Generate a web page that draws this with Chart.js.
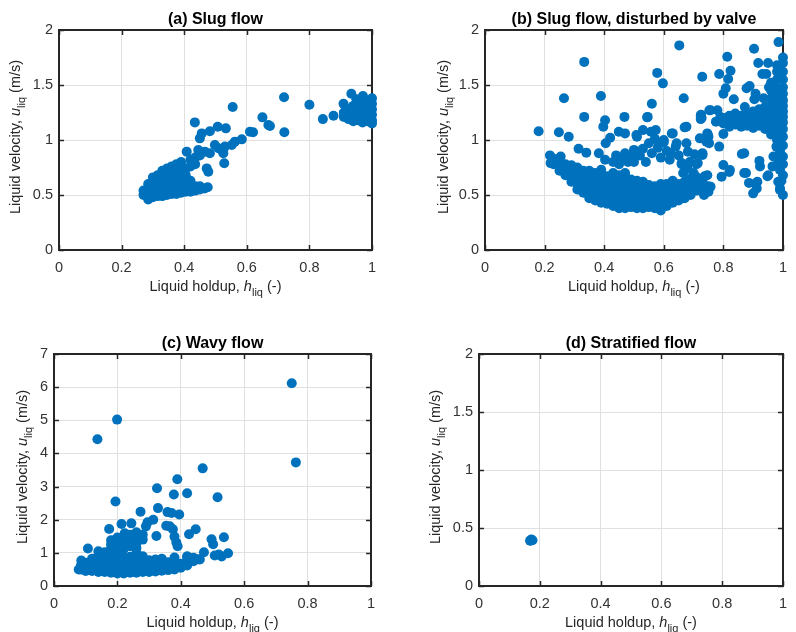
<!DOCTYPE html>
<html>
<head>
<meta charset="utf-8">
<script src="https://cdn.jsdelivr.net/npm/chart.js@4.4.0/dist/chart.umd.min.js"></script>
<style>
  body { margin: 0; background: #fff; }
  canvas { position: absolute; left: 0; top: 0; }
</style>
</head>
<body>
<canvas id="pa" width="796" height="632"></canvas>
<canvas id="pb" width="796" height="632"></canvas>
<canvas id="pc" width="796" height="632"></canvas>
<canvas id="pd" width="796" height="632"></canvas>
<script>
// tick labels
const holdupTicks = [0, 0.2, 0.4, 0.6, 0.8, 1];
const velTicks = [0, 0.5, 1, 1.5, 2];
const wavyVelTicks = [0, 1, 2, 3, 4, 5, 6, 7];

const panelTitles = ['(a) Slug flow', '(b) Slug flow, disturbed by valve', '(c) Wavy flow', '(d) Stratified flow'];

// (a) slug flow: [holdup, velocity]
const slugPts = [
  [0.434,1.16],[0.555,1.30],[0.507,1.12],[0.533,1.106],[0.482,1.08],[0.456,1.06],[0.45,1.015],
  [0.65,1.206],[0.669,1.136],[0.61,1.075],[0.62,1.07],[0.584,1.006],[0.562,0.985],[0.552,0.955],
  [0.53,0.94],[0.509,0.925],[0.498,0.955],[0.408,0.894],[0.445,0.909],[0.466,0.894],[0.482,0.879],
  [0.52,0.909],[0.525,0.879],[0.528,0.788],[0.472,0.742],[0.477,0.712],
  [0.719,1.388],[0.80,1.32],[0.843,1.19],[0.877,1.22],[0.72,1.07],[0.674,1.127],
  [0.27,0.50],[0.27,0.54],
  [0.285,0.46],[0.285,0.50],[0.285,0.55],[0.285,0.60],
  [0.30,0.48],[0.30,0.52],[0.30,0.57],[0.30,0.62],[0.30,0.66],
  [0.315,0.49],[0.315,0.53],[0.315,0.58],[0.315,0.63],[0.315,0.68],
  [0.33,0.49],[0.33,0.54],[0.33,0.59],[0.33,0.64],[0.33,0.69],[0.33,0.72],
  [0.345,0.50],[0.345,0.55],[0.345,0.60],[0.345,0.65],[0.345,0.70],[0.345,0.74],
  [0.36,0.51],[0.36,0.56],[0.36,0.61],[0.36,0.66],[0.36,0.71],[0.36,0.76],
  [0.375,0.51],[0.375,0.56],[0.375,0.61],[0.375,0.66],[0.375,0.71],[0.375,0.78],
  [0.39,0.52],[0.39,0.57],[0.39,0.62],[0.39,0.67],[0.39,0.72],[0.39,0.80],
  [0.405,0.53],[0.405,0.57],[0.405,0.62],[0.405,0.68],[0.405,0.74],
  [0.42,0.53],[0.42,0.58],[0.42,0.63],[0.42,0.76],[0.42,0.82],
  [0.435,0.54],[0.435,0.58],[0.435,0.78],[0.435,0.84],
  [0.45,0.55],[0.45,0.58],[0.45,0.86],[0.465,0.56],[0.475,0.57],
  [0.934,1.42],[0.971,1.40],[0.909,1.33],[0.95,1.37],
  [0.91,1.25],[0.91,1.21],[0.925,1.28],[0.925,1.23],[0.925,1.19],
  [0.94,1.31],[0.94,1.26],[0.94,1.21],[0.94,1.17],
  [0.955,1.33],[0.955,1.28],[0.955,1.23],[0.955,1.18],
  [0.97,1.34],[0.97,1.29],[0.97,1.24],[0.97,1.19],[0.97,1.16],
  [0.985,1.36],[0.985,1.31],[0.985,1.26],[0.985,1.21],[0.985,1.17],
  [1.0,1.38],[1.0,1.33],[1.0,1.28],[1.0,1.23],[1.0,1.18],[1.0,1.15]
];

// (b) slug flow disturbed by valve
const valvePts = [
  [0.18,1.08],[0.218,0.86],[0.22,0.79],[0.248,1.07],[0.265,1.38],[0.281,1.03],[0.254,0.85],
  [0.314,0.92],[0.34,0.885],[0.333,1.71],[0.333,1.21],[0.389,1.40],[0.403,1.18],[0.397,1.12],
  [0.382,0.88],[0.403,0.82],[0.42,1.02],[0.405,0.97],[0.468,1.21],[0.546,1.21],[0.56,1.33],
  [0.578,1.61],[0.597,1.515],[0.652,1.86],[0.667,1.38],[0.676,1.12],[0.729,1.575],[0.725,1.23],
  [0.727,1.20],[0.757,1.27],[0.786,1.60],[0.813,1.757],[0.824,1.63],[0.816,1.555],[0.80,1.42],
  [0.808,1.47],[0.903,1.83],[0.917,1.70],[0.95,1.70],[0.944,1.60],[0.931,1.60],[0.985,1.89],
  [0.835,1.37],[0.872,1.30],[0.878,1.47],[0.888,1.49],[0.908,1.42],[0.904,1.37],[0.953,1.48],
  [0.935,1.38],[0.753,1.27],[0.78,1.27],[0.724,1.22],[0.724,1.19],[0.775,1.167],[0.79,1.21],
  [0.80,1.055],[0.67,1.115],[0.748,1.045],[0.743,0.985],[0.721,1.015],[0.786,0.94],[0.862,0.873],
  [0.80,0.773],[0.794,0.667],[0.822,0.727],[0.87,0.70],[0.886,0.61],[0.90,0.515],[0.912,0.56],
  [0.921,0.81],[0.923,0.76],[0.948,0.67],[0.727,0.87],[0.737,0.67],[0.716,0.62],
  [0.449,1.075],[0.47,1.06],[0.508,1.045],[0.53,1.09],[0.557,1.075],[0.544,1.206],
  [0.23,0.78],[0.23,0.83],[0.25,0.72],[0.25,0.77],[0.25,0.81],[0.27,0.68],[0.27,0.73],[0.27,0.78],
  [0.29,0.62],[0.29,0.67],[0.29,0.72],[0.29,0.77],
  [0.31,0.55],[0.31,0.60],[0.31,0.65],[0.31,0.70],[0.31,0.75],
  [0.33,0.52],[0.33,0.57],[0.33,0.62],[0.33,0.67],[0.33,0.72],
  [0.35,0.47],[0.35,0.52],[0.35,0.57],[0.35,0.62],[0.35,0.67],[0.35,0.72],
  [0.37,0.45],[0.37,0.50],[0.37,0.55],[0.37,0.60],[0.37,0.65],[0.37,0.70],
  [0.39,0.43],[0.39,0.48],[0.39,0.53],[0.39,0.58],[0.39,0.63],[0.39,0.68],[0.39,0.73],
  [0.41,0.42],[0.41,0.47],[0.41,0.52],[0.41,0.57],[0.41,0.62],[0.41,0.67],
  [0.43,0.40],[0.43,0.45],[0.43,0.50],[0.43,0.55],[0.43,0.60],[0.43,0.65],[0.43,0.70],
  [0.45,0.38],[0.45,0.43],[0.45,0.48],[0.45,0.53],[0.45,0.58],[0.45,0.63],[0.45,0.68],
  [0.47,0.38],[0.47,0.43],[0.47,0.48],[0.47,0.53],[0.47,0.58],[0.47,0.63],[0.47,0.70],
  [0.49,0.39],[0.49,0.44],[0.49,0.49],[0.49,0.54],[0.49,0.59],[0.49,0.64],
  [0.51,0.38],[0.51,0.43],[0.51,0.48],[0.51,0.53],[0.51,0.58],[0.51,0.63],
  [0.53,0.38],[0.53,0.43],[0.53,0.48],[0.53,0.53],[0.53,0.58],[0.53,0.62],
  [0.55,0.39],[0.55,0.44],[0.55,0.49],[0.55,0.54],[0.55,0.59],
  [0.57,0.38],[0.57,0.43],[0.57,0.48],[0.57,0.53],[0.57,0.58],
  [0.59,0.36],[0.59,0.41],[0.59,0.46],[0.59,0.51],[0.59,0.56],[0.59,0.60],
  [0.61,0.40],[0.61,0.45],[0.61,0.50],[0.61,0.55],[0.61,0.60],
  [0.63,0.43],[0.63,0.48],[0.63,0.53],[0.63,0.58],[0.63,0.63],
  [0.65,0.45],[0.65,0.50],[0.65,0.55],[0.65,0.60],
  [0.67,0.47],[0.67,0.52],[0.67,0.57],[0.67,0.62],
  [0.69,0.50],[0.69,0.55],[0.69,0.60],[0.69,0.65],
  [0.71,0.54],[0.71,0.59],[0.71,0.64],[0.73,0.56],[0.73,0.62],[0.75,0.58],[0.75,0.53],
  [0.43,0.80],[0.44,0.86],[0.45,0.78],[0.46,0.83],[0.47,0.88],[0.48,0.80],[0.49,0.86],[0.50,0.91],
  [0.50,0.80],[0.52,0.86],[0.51,1.03],[0.53,0.92],[0.54,0.80],[0.55,0.97],[0.56,0.88],[0.57,1.01],
  [0.58,0.93],[0.59,0.84],[0.60,0.98],[0.61,0.90],[0.62,0.82],[0.63,1.06],[0.64,0.94],[0.65,0.86],
  [0.66,0.78],[0.68,0.74],[0.70,0.70],[0.71,0.78],
  [0.573,1.09],[0.584,0.97],[0.60,1.0],[0.627,1.06],[0.643,0.97],[0.622,0.88],[0.676,0.97],
  [0.681,0.894],[0.687,0.80],[0.66,0.79],[0.665,0.70],[0.708,0.667],[0.73,0.864],[0.746,1.06],[0.752,0.97],
  [0.724,0.61],[0.746,0.68],[0.735,0.50],[0.757,0.576],[0.714,0.79],[0.703,0.87],[0.73,0.88],[0.75,1.03],
  [0.80,1.15],[0.80,1.20],[0.82,1.12],[0.82,1.17],[0.82,1.22],[0.84,1.14],[0.84,1.19],[0.84,1.24],
  [0.86,1.12],[0.86,1.17],[0.86,1.22],[0.88,1.13],[0.88,1.18],[0.88,1.23],
  [0.90,1.11],[0.90,1.16],[0.90,1.21],[0.90,1.26],[0.92,1.13],[0.92,1.18],[0.92,1.23],[0.92,1.28],
  [0.94,1.10],[0.94,1.15],[0.94,1.20],[0.94,1.25],[0.94,1.30],
  [0.96,1.05],[0.96,1.12],[0.96,1.17],[0.96,1.22],[0.96,1.27],[0.96,1.32],[0.96,1.38],[0.96,1.45],[0.96,1.52],
  [0.98,1.0],[0.98,1.08],[0.98,1.14],[0.98,1.19],[0.98,1.24],[0.98,1.29],[0.98,1.34],[0.98,1.40],
  [0.98,1.47],[0.98,1.55],[0.98,1.62],[0.98,1.68],
  [1.0,0.95],[1.0,1.03],[1.0,1.1],[1.0,1.16],[1.0,1.21],[1.0,1.26],[1.0,1.31],[1.0,1.36],[1.0,1.42],
  [1.0,1.48],[1.0,1.55],[1.0,1.62],[1.0,1.70],[1.0,1.75],
  [0.99,0.9],[1.0,0.85],[0.985,0.8],[0.99,0.727],[1.0,0.68],[0.995,0.63],[0.984,0.62],[0.99,0.56],
  [1.0,0.5],[0.99,0.545],[0.978,0.94],[0.968,0.85],[0.965,0.76],[0.951,0.68],[1.0,0.78],[0.978,1.06],
  [0.914,0.62],[0.876,0.70],[0.87,0.88],[0.82,0.71]
];

// (c) wavy flow
const wavyPts = [
  [0.137,4.43],[0.199,5.02],[0.75,6.12],[0.763,3.73],[0.469,3.55],[0.389,3.22],[0.42,2.80],
  [0.378,2.76],[0.325,2.95],[0.516,2.68],[0.194,2.55],[0.273,2.24],[0.328,2.35],[0.358,2.23],
  [0.371,2.2],[0.395,2.16],[0.295,1.92],[0.313,2.0],[0.354,1.82],[0.375,1.71],[0.447,1.71],
  [0.426,1.56],[0.323,1.51],[0.38,1.49],[0.386,1.31],[0.497,1.41],[0.502,1.26],[0.536,1.47],
  [0.174,1.72],[0.213,1.87],[0.244,1.89],[0.107,1.13],[0.473,1.02],[0.507,0.92],[0.529,0.89],
  [0.549,0.99],[0.52,0.95],[0.42,0.87],[0.438,0.83],[0.455,0.81],[0.086,0.77],[0.078,0.50],
  [0.39,1.2],[0.365,1.8],[0.29,1.80],[0.223,1.59],[0.25,1.49],[0.27,1.54],
  [0.085,0.50],[0.085,0.62],[0.10,0.45],[0.10,0.57],[0.10,0.70],
  [0.12,0.45],[0.12,0.57],[0.12,0.70],[0.12,0.82],
  [0.14,0.42],[0.14,0.54],[0.14,0.66],[0.14,0.78],[0.14,0.92],[0.14,1.05],
  [0.16,0.42],[0.16,0.54],[0.16,0.66],[0.16,0.78],[0.16,0.90],[0.16,1.02],
  [0.18,0.40],[0.18,0.52],[0.18,0.64],[0.18,0.76],[0.18,0.88],[0.18,1.00],[0.18,1.12],[0.18,1.25],[0.18,1.38],
  [0.20,0.38],[0.20,0.50],[0.20,0.62],[0.20,0.74],[0.20,0.86],[0.20,0.98],[0.20,1.10],[0.20,1.22],[0.20,1.34],[0.20,1.46],
  [0.22,0.38],[0.22,0.50],[0.22,0.62],[0.22,0.74],[0.22,0.86],[0.22,1.12],[0.22,1.30],[0.22,1.42],
  [0.24,0.40],[0.24,0.52],[0.24,0.64],[0.24,0.76],[0.24,0.88],[0.24,1.20],[0.24,1.35],[0.24,1.55],
  [0.26,0.40],[0.26,0.52],[0.26,0.64],[0.26,0.76],[0.26,1.00],[0.26,1.15],[0.26,1.30],[0.26,1.62],
  [0.28,0.42],[0.28,0.54],[0.28,0.66],[0.28,0.90],[0.28,1.40],[0.28,1.55],
  [0.30,0.42],[0.30,0.54],[0.30,0.66],[0.30,0.78],
  [0.32,0.44],[0.32,0.56],[0.32,0.68],[0.32,0.80],
  [0.34,0.46],[0.34,0.58],[0.34,0.70],[0.34,0.82],
  [0.36,0.48],[0.36,0.60],[0.36,0.72],
  [0.38,0.50],[0.38,0.62],[0.38,0.74],[0.38,0.86],
  [0.40,0.55],[0.40,0.67],[0.42,0.62],[0.42,0.90],[0.44,0.75],[0.44,0.85],[0.46,0.80]
];

// (d) stratified flow
const stratPts = [[0.168,0.39],[0.172,0.40],[0.176,0.395],[0.17,0.392]];

// plot boxes in page pixels
const boxes = [
  { L: 59, R: 372, T: 30, B: 250, yLab: 39 },
  { L: 485, R: 793, T: 30, B: 250, yLab: 37 },
  { L: 54, R: 371, T: 354, B: 586, yLab: 27 },
  { L: 479, R: 793, T: 354, B: 586, yLab: 39 }
];

const FONT = "'Liberation Sans', Arial, Helvetica, sans-serif";
const AX = '#262626';

function drawRich(ctx, parts, cx, y) {
  let w = 0;
  parts.forEach(p => { ctx.font = p.font; w += ctx.measureText(p.text).width; });
  let x = cx - w / 2;
  parts.forEach(p => {
    ctx.font = p.font;
    ctx.fillText(p.text, x, y + (p.dy || 0));
    x += ctx.measureText(p.text).width;
  });
}

const matlabAxes = {
  id: 'matlabAxes',
  beforeDatasetsDraw(chart) {
    const { ctx, chartArea: a, scales: { x, y } } = chart;
    ctx.save();
    ctx.strokeStyle = AX;
    ctx.lineWidth = 1.5;
    ctx.beginPath();
    x.ticks.forEach(t => {
      const px = Math.round(x.getPixelForValue(t.value)) + 0.5;
      ctx.moveTo(px, a.bottom); ctx.lineTo(px, a.bottom - 5);
      ctx.moveTo(px, a.top); ctx.lineTo(px, a.top + 5);
    });
    y.ticks.forEach(t => {
      const py = Math.round(y.getPixelForValue(t.value)) + 0.5;
      ctx.moveTo(a.left, py); ctx.lineTo(a.left + 5, py);
      ctx.moveTo(a.right, py); ctx.lineTo(a.right - 5, py);
    });
    ctx.stroke();
    ctx.lineWidth = 2;
    ctx.strokeRect(Math.round(a.left), Math.round(a.top), Math.round(a.right - a.left), Math.round(a.bottom - a.top));
    ctx.restore();
  },
  afterDraw(chart) {
    const { ctx, chartArea: a } = chart;
    const o = chart.options.plugins.matlabAxes;
    const cx = (a.left + a.right) / 2;
    const cy = (a.top + a.bottom) / 2;
    ctx.save();
    ctx.textAlign = 'left';
    ctx.textBaseline = 'alphabetic';
    ctx.fillStyle = '#000';
    drawRich(ctx, [{ text: o.title, font: 'bold 16px ' + FONT }], cx, a.top - 6);
    ctx.fillStyle = AX;
    drawRich(ctx, [
      { text: 'Liquid holdup, ', font: '14.5px ' + FONT },
      { text: 'h', font: 'italic 14.5px ' + FONT },
      { text: 'liq', font: '11px ' + FONT, dy: 4.5 },
      { text: ' (-)', font: '14.5px ' + FONT }
    ], cx, a.bottom + 41);
    ctx.translate(a.left - o.yLab, cy - 3);
    ctx.rotate(-Math.PI / 2);
    drawRich(ctx, [
      { text: 'Liquid velocity, ', font: '14.5px ' + FONT },
      { text: 'u', font: 'italic 14.5px ' + FONT },
      { text: 'liq', font: '11px ' + FONT, dy: 4.5 },
      { text: ' (m/s)', font: '14.5px ' + FONT }
    ], 0, 0);
    ctx.restore();
  }
};

function makePanel(id, pts, box, title, yTicks) {
  const yMax = yTicks[yTicks.length - 1];
  new Chart(document.getElementById(id).getContext('2d'), {
    type: 'scatter',
    data: {
      datasets: [{
        data: pts.map(p => ({ x: p[0], y: p[1] })),
        backgroundColor: '#0072BD',
        borderWidth: 0,
        pointRadius: 5,
        pointHoverRadius: 5,
        clip: false
      }]
    },
    options: {
      responsive: false,
      animation: false,
      events: [],
      layout: { padding: { left: box.L - 40, right: 796 - box.R, top: box.T, bottom: 632 - box.B - 30 } },
      scales: {
        x: {
          type: 'linear', min: 0, max: 1,
          afterFit: s => { s.height = 30; },
          afterBuildTicks: s => { s.ticks = holdupTicks.map(v => ({ value: v })); },
          grid: { color: '#e0e0e0', drawTicks: false },
          border: { display: false },
          ticks: { autoSkip: false, maxRotation: 0, padding: 9, color: '#333', font: { family: FONT, size: 14.5 }, callback: v => String(v) }
        },
        y: {
          type: 'linear', min: 0, max: yMax,
          afterFit: s => { s.width = 40; },
          afterBuildTicks: s => { s.ticks = yTicks.map(v => ({ value: v })); },
          grid: { color: '#e0e0e0', drawTicks: false },
          border: { display: false },
          ticks: { autoSkip: false, padding: 6, color: '#333', font: { family: FONT, size: 14.5 }, callback: v => String(v) }
        }
      },
      plugins: {
        legend: { display: false },
        tooltip: { enabled: false },
        matlabAxes: { title: title, yLab: box.yLab }
      }
    },
    plugins: [matlabAxes]
  });
}

makePanel('pa', slugPts, boxes[0], panelTitles[0], velTicks);
makePanel('pb', valvePts, boxes[1], panelTitles[1], velTicks);
makePanel('pc', wavyPts, boxes[2], panelTitles[2], wavyVelTicks);
makePanel('pd', stratPts, boxes[3], panelTitles[3], velTicks);
</script>
</body>
</html>
